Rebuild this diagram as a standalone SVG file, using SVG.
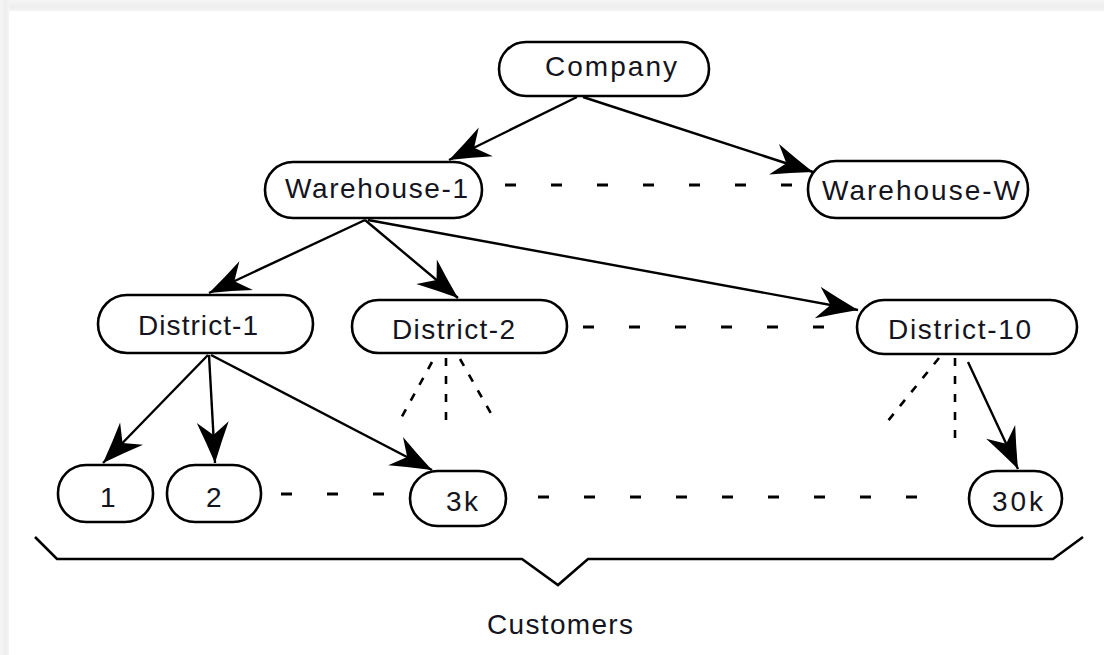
<svg xmlns="http://www.w3.org/2000/svg" width="1104" height="655" viewBox="0 0 1104 655">
  <style>
    .node { fill: #ffffff; stroke: #000000; stroke-width: 2.6; }
    .lbl { font-family: "Liberation Sans", Arial, sans-serif; font-size: 28px; fill: #141420; }
    .edge { fill: none; stroke: #000000; stroke-width: 2.4; }
    .dash { fill: none; stroke: #000000; stroke-width: 3; stroke-dasharray: 11 35; }
    .fan { fill: none; stroke: #000000; stroke-width: 2.6; stroke-dasharray: 8 10; }
    .brace { fill: none; stroke: #000000; stroke-width: 2.6; }
  </style>
  <defs>
    <marker id="arrow" markerUnits="userSpaceOnUse" markerWidth="48" markerHeight="36" viewBox="-44 -18 48 36" refX="0" refY="0" orient="auto">
      <path d="M0,0 Q-22,-8 -41,-16 L-28,0 L-41,16 Q-22,8 0,0 Z" fill="#000000"/>
    </marker>
    <linearGradient id="topShade" x1="0" y1="0" x2="0" y2="1">
      <stop offset="0" stop-color="#f5f5f5"/>
      <stop offset="0.6" stop-color="#eeeeee"/>
      <stop offset="1" stop-color="#f4f4f4"/>
    </linearGradient>
    <linearGradient id="leftShade" x1="0" y1="0" x2="1" y2="0">
      <stop offset="0" stop-color="#f5f5f5"/>
      <stop offset="0.6" stop-color="#eeeeee"/>
      <stop offset="1" stop-color="#f4f4f4"/>
    </linearGradient>
  </defs>

  <!-- page background with soft frame on the top and left -->
  <rect x="0" y="0" width="1104" height="655" fill="#ffffff"/>
  <rect x="0" y="0" width="1104" height="11" fill="url(#topShade)"/>
  <rect x="0" y="0" width="9" height="655" fill="url(#leftShade)"/>

  <!-- connectors -->
  <g id="connectors">
    <path class="edge" d="M577,97 L449,160" marker-end="url(#arrow)"/>
    <path class="edge" d="M583,97 L813,172" marker-end="url(#arrow)"/>
    <path class="edge" d="M365,220 L209,293" marker-end="url(#arrow)"/>
    <path class="edge" d="M365,220 L458,298" marker-end="url(#arrow)"/>
    <path class="edge" d="M368,220 L858,310" marker-end="url(#arrow)"/>
    <path class="edge" d="M208,355 L103,463" marker-end="url(#arrow)"/>
    <path class="edge" d="M209,355 L215,463" marker-end="url(#arrow)"/>
    <path class="edge" d="M211,355 L432,470" marker-end="url(#arrow)"/>
    <path class="edge" d="M968,362 L1018,469" marker-end="url(#arrow)"/>

    <!-- elided siblings -->
    <path class="dash" d="M505,185 L795,185"/>
    <path class="dash" d="M583,327 L850,327"/>
    <path class="dash" d="M281,494 L400,494"/>
    <path class="dash" d="M538,497 L930,497"/>

    <!-- elided children -->
    <path class="fan" d="M432,362 L400,420"/>
    <path class="fan" d="M446,358 L446,428"/>
    <path class="fan" d="M460,359 L493,417"/>
    <path class="fan" d="M939,358 L883,427"/>
    <path class="fan" d="M955,358 L955,440"/>

    <!-- brace under the customer row -->
    <path class="brace" d="M35,537 L57,559 L522,559 L558,585 L588,559 L1053,559 L1083,537"/>
  </g>

  <g id="company">
    <rect class="node" x="499" y="42" width="210" height="54" rx="27"/>
    <text class="lbl" x="545" y="76" textLength="132" lengthAdjust="spacing">Company</text>
  </g>
  <g id="warehouse-1">
    <rect class="node" x="265" y="162" width="217" height="56" rx="28"/>
    <text class="lbl" x="285" y="198" textLength="183" lengthAdjust="spacing">Warehouse-1</text>
  </g>
  <g id="warehouse-w">
    <rect class="node" x="808" y="161" width="220" height="57" rx="28"/>
    <text class="lbl" x="822" y="200" textLength="198" lengthAdjust="spacing">Warehouse-W</text>
  </g>
  <g id="district-1">
    <rect class="node" x="98" y="295" width="215" height="58" rx="29"/>
    <text class="lbl" x="138" y="335" textLength="120" lengthAdjust="spacing">District-1</text>
  </g>
  <g id="district-2">
    <rect class="node" x="352" y="300" width="215" height="53" rx="26.5"/>
    <text class="lbl" x="392" y="339" textLength="123" lengthAdjust="spacing">District-2</text>
  </g>
  <g id="district-10">
    <rect class="node" x="857" y="300" width="220" height="54" rx="27"/>
    <text class="lbl" x="888" y="339" textLength="143" lengthAdjust="spacing">District-10</text>
  </g>
  <g id="customer-1">
    <rect class="node" x="58" y="465" width="95" height="57" rx="28"/>
    <text class="lbl" x="100" y="507">1</text>
  </g>
  <g id="customer-2">
    <rect class="node" x="167" y="465" width="94" height="57" rx="28"/>
    <text class="lbl" x="206" y="507">2</text>
  </g>
  <g id="customer-3k">
    <rect class="node" x="410" y="471" width="96" height="55" rx="27.5"/>
    <text class="lbl" x="446" y="511" textLength="32" lengthAdjust="spacing">3k</text>
  </g>
  <g id="customer-30k">
    <rect class="node" x="969" y="471" width="93" height="55" rx="27.5"/>
    <text class="lbl" x="992" y="511" textLength="51" lengthAdjust="spacing">30k</text>
  </g>

  <g id="customers-label">
    <text class="lbl" x="487" y="634" textLength="146" lengthAdjust="spacing">Customers</text>
  </g>
</svg>
